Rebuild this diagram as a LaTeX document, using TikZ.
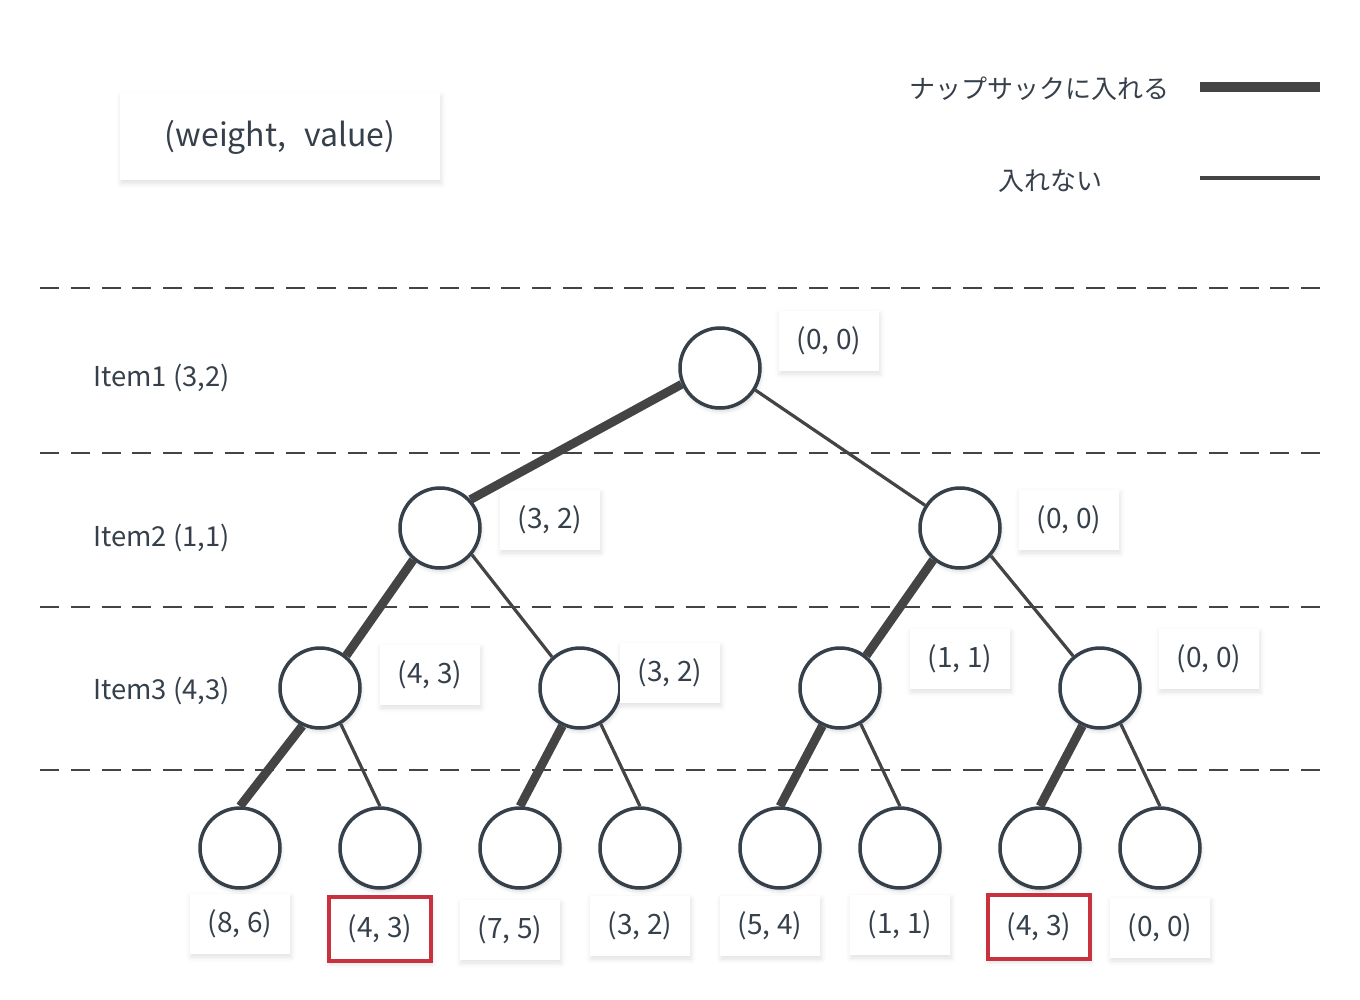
\documentclass[tikz,border=0pt]{standalone}
\usepackage{fontspec}
\setmainfont{Noto Sans CJK JP}
\usetikzlibrary{shadows.blur}

\definecolor{inkColor}{HTML}{36404B}
\definecolor{edgeColor}{HTML}{444444}
\definecolor{markColor}{HTML}{C8313D}

\def\treeNodeSize{40pt}
\def\treeNodeLine{1.75pt}
\def\takeWidth{4.4pt}
\def\skipWidth{1.6pt}

\tikzset{
    treenode/.style = {circle, draw = inkColor, line width = \treeNodeLine,
        fill = white, minimum size = \treeNodeSize, inner sep = 0pt,
        blur shadow = {shadow xshift = 0.5pt, shadow yshift = -1.5pt,
            shadow blur radius = 2pt, shadow opacity = 18}},
    valbox/.style = {fill = white, text = inkColor,
        font = \fontsize{14}{16}\selectfont,
        minimum width = 50pt, minimum height = 30pt, inner sep = 0pt,
        blur shadow = {shadow xshift = 0.5pt, shadow yshift = -1.5pt,
            shadow blur radius = 2.5pt, shadow opacity = 12}},
    markbox/.style = {valbox, draw = markColor, line width = 1.6pt,
        minimum width = 51pt, minimum height = 32pt},
    itemlabel/.style = {anchor = west, text = inkColor, inner sep = 0pt,
        font = \fontsize{13.7}{16}\selectfont},
    take/.style = {draw = edgeColor, line width = \takeWidth},
    skip/.style = {draw = edgeColor, line width = \skipWidth},
    levelline/.style = {draw = edgeColor, line width = 1.1pt,
        dash pattern = on 9.5pt off 5.88pt},
}

\begin{document}
\begin{tikzpicture}[x = 0.5pt, y = -0.5pt]
    \useasboundingbox (0,0) rectangle (1360,1000);

    %% legend
    \node [valbox, minimum width = 160pt, minimum height = 43.5pt,
        font = \fontsize{16}{19}\selectfont]
        (legendbox) at (280,137) {(weight,\hspace{0.55em}value)};
    \node [text = inkColor, font = \fontsize{13}{16}\selectfont]
        (takelabel) at (1039,89) {ナップサックに入れる};
    \node [text = inkColor, font = \fontsize{13}{16}\selectfont]
        (skiplabel) at (1050,181) {入れない};
    \coordinate (takestart) at (1200,87);
    \coordinate (skipstart) at (1200,178);
    \draw [take, line width = 5pt] (takestart) -- +(120,0);
    \draw [skip] (skipstart) -- +(120,0);

    %% levels
    \foreach \y in {288,453,607,770} {
        \draw [levelline] (40,\y) -- (1320,\y);
    }
    \node [itemlabel] (item1) at (93,378) {Item1 (3,2)};
    \node [itemlabel] (item2) at (93,538) {Item2 (1,1)};
    \node [itemlabel] (item3) at (93,691) {Item3 (4,3)};

    %% tree
    \node [treenode] (root) at (720,368) {};
    \node [treenode] (l1a) at (440,528) {};
    \node [treenode] (l1b) at (960,528) {};
    \node [treenode] (l2a) at (320,688) {};
    \node [treenode] (l2b) at (580,688) {};
    \node [treenode] (l2c) at (840,688) {};
    \node [treenode] (l2d) at (1100,688) {};
    \foreach \x [count = \i] in {240,380,520,640,780,900,1040,1160} {
        \node [treenode] (l3n\i) at (\x,848) {};
    }

    \draw [take] (root.203) -- (l1a.43);
    \draw [skip] (root.328) -- (l1b.147);
    \draw [take] (l1a.230) -- (l2a.51);
    \draw [skip] (l1a.320) -- (l2b.132);
    \draw [take] (l1b.230) -- (l2c.51);
    \draw [skip] (l1b.318) -- (l2d.130);
    \draw [take] (l2a.245) -- (l3n1.north);
    \draw [skip] (l2a.300) -- (l3n2.north);
    \draw [take] (l2b.245) -- (l3n3.north);
    \draw [skip] (l2b.300) -- (l3n4.north);
    \draw [take] (l2c.245) -- (l3n5.north);
    \draw [skip] (l2c.300) -- (l3n6.north);
    \draw [take] (l2d.245) -- (l3n7.north);
    \draw [skip] (l2d.300) -- (l3n8.north);

    %% values
    \node [valbox] (rootval) at (829,341) {(0, 0)};
    \node [valbox] (l1aval) at (550,520) {(3, 2)};
    \node [valbox] (l1bval) at (1069,520) {(0, 0)};
    \node [valbox] (l2aval) at (430,675) {(4, 3)};
    \node [valbox] (l2bval) at (670,673) {(3, 2)};
    \node [valbox] (l2cval) at (960,659) {(1, 1)};
    \node [valbox] (l2dval) at (1209,659) {(0, 0)};

    \node [valbox] (l3val1) at (240,924) {(8, 6)};
    \node [markbox] (l3val2) at (380,929) {(4, 3)};
    \node [valbox] (l3val3) at (510,930) {(7, 5)};
    \node [valbox] (l3val4) at (640,926) {(3, 2)};
    \node [valbox] (l3val5) at (770,926) {(5, 4)};
    \node [valbox] (l3val6) at (900,925) {(1, 1)};
    \node [markbox] (l3val7) at (1039,927) {(4, 3)};
    \node [valbox] (l3val8) at (1160,928) {(0, 0)};
\end{tikzpicture}
\end{document}
